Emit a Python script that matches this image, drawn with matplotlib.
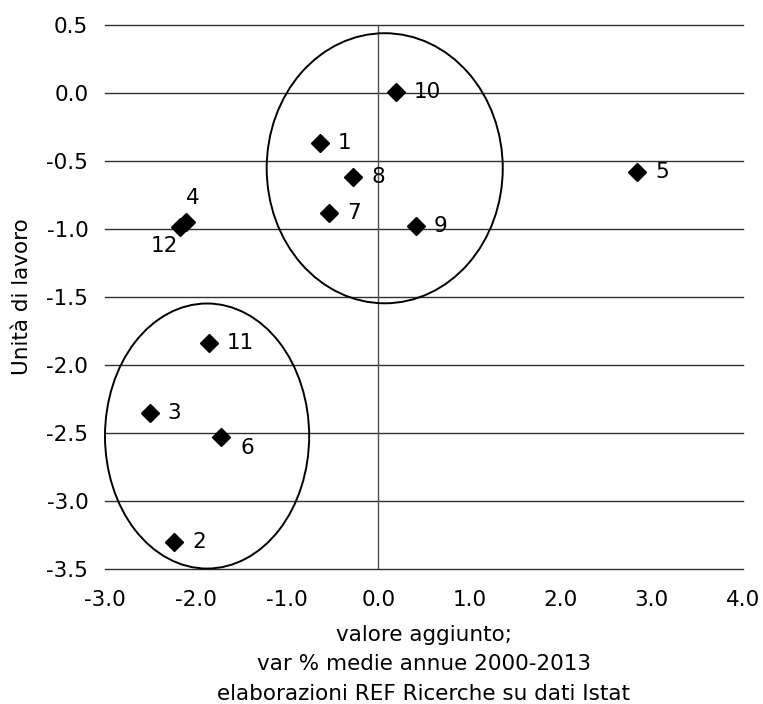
import matplotlib.pyplot as plt
from matplotlib.patches import Ellipse

# dati: valore aggiunto vs unità di lavoro (var % medie annue 2000-2013)
labels = ['1', '2', '3', '4', '5', '6', '7', '8', '9', '10', '11', '12']
x_va = [-0.64, -2.24, -2.51, -2.11, 2.84, -1.73, -0.54, -0.275, 0.41, 0.19, -1.86, -2.18]
y_ul = [-0.37, -3.30, -2.357, -0.947, -0.584, -2.53, -0.885, -0.616, -0.98, 0.01, -1.84, -0.984]

x_ticks = [-3.0, -2.0, -1.0, 0.0, 1.0, 2.0, 3.0, 4.0]
y_ticks = [0.5, 0.0, -0.5, -1.0, -1.5, -2.0, -2.5, -3.0, -3.5]

# gruppi cerchiati: centro x, centro y, larghezza, altezza
ell_cx = [0.069, -1.88]
ell_cy = [-0.554, -2.524]
ell_w = [2.59, 2.24]
ell_h = [1.987, 1.95]

fs = 15.5

fig = plt.figure(figsize=(7.63, 7.04), dpi=100)
ax = fig.add_axes([0.1376, 0.1922, 0.8362, 0.7723])

ax.set_xlim(-3.0, 4.0)
ax.set_ylim(-3.5, 0.5)
ax.set_xticks(x_ticks)
ax.set_yticks(y_ticks)
ax.set_xticklabels([f'{v:.1f}' for v in x_ticks], fontsize=fs)
ax.set_yticklabels([f'{v:.1f}' for v in y_ticks], fontsize=fs)
ax.tick_params(axis='x', length=0, pad=15)
ax.tick_params(axis='y', length=0, pad=12)

for s in ax.spines.values():
    s.set_visible(False)

# griglia orizzontale e asse verticale a zero
for v in y_ticks:
    ax.axhline(v, color='#303030', lw=1.0, zorder=1, clip_on=False)
ax.axvline(0, color='#505050', lw=1.0, zorder=1)

ax.plot(x_va, y_ul, linestyle='none', marker='D', ms=9, color='black', zorder=3)

# etichette dei punti
offsets = {'4': (5, 17, 'center'), '6': (14, -8, 'left'), '12': (-11, -14, 'center')}
for lab, xv, yv in zip(labels, x_va, y_ul):
    dx, dy, ha = offsets.get(lab, (13, 0, 'left'))
    ax.annotate(lab, (xv, yv), xytext=(dx, dy), textcoords='offset points',
                ha=ha, va='center', fontsize=fs)

for cx, cy, w, h in zip(ell_cx, ell_cy, ell_w, ell_h):
    ax.add_patch(Ellipse((cx, cy), w, h, fill=False, edgecolor='black', lw=1.4,
                         zorder=2, clip_on=False))

ax.set_xlabel('valore aggiunto;\nvar % medie annue 2000-2013\nelaborazioni REF Ricerche su dati Istat',
              fontsize=fs, linespacing=1.6, labelpad=11)
ax.set_ylabel('Unità di lavoro', fontsize=fs, labelpad=10)

fig.savefig('out.png', dpi=100)
